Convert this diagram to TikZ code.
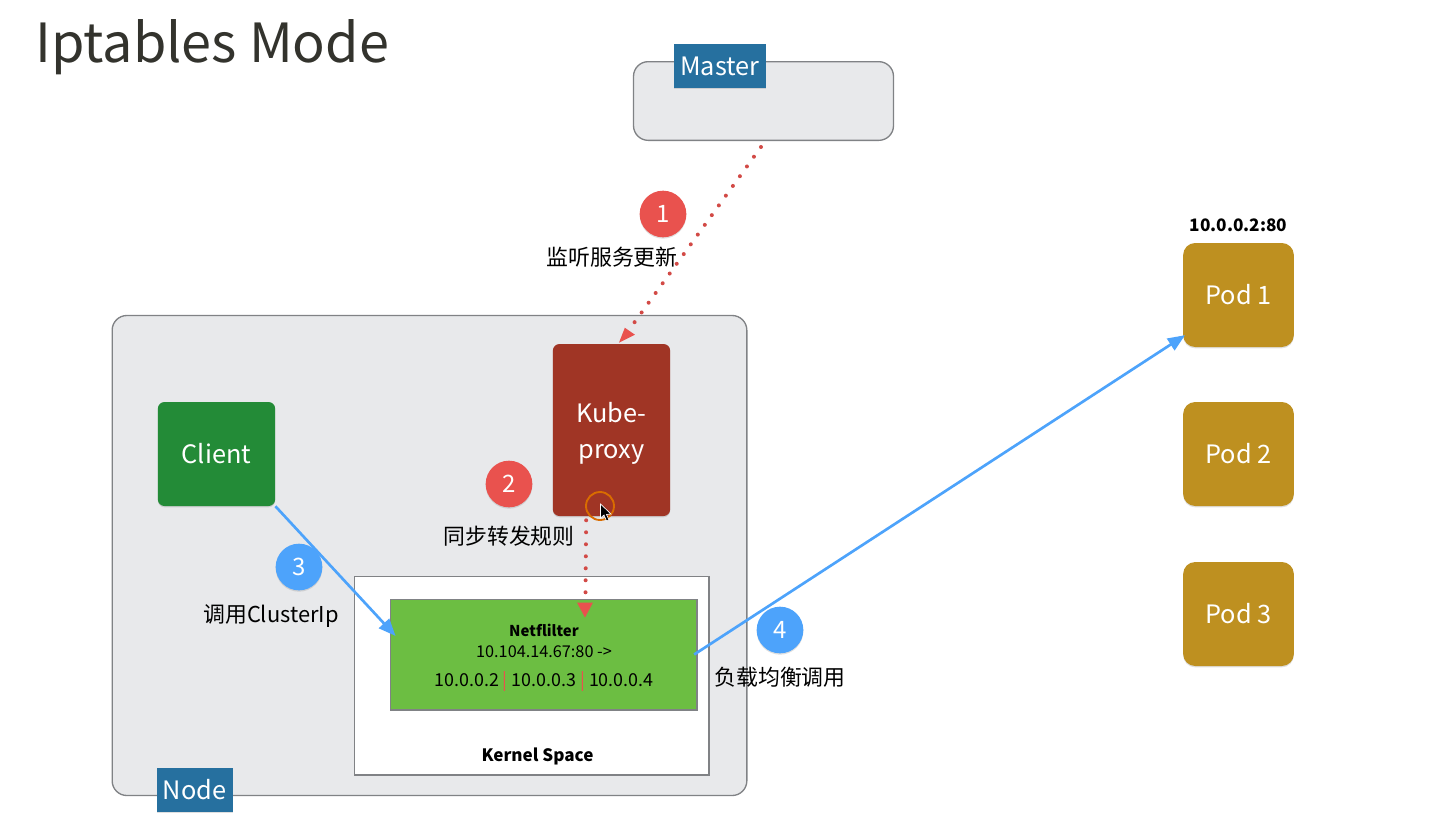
\documentclass[tikz,border=0pt]{standalone}
\usepackage{fontspec}
\setmainfont{Noto Sans CJK SC}
\usetikzlibrary{shapes,arrows}
\usetikzlibrary{shadows}
\definecolor{panelgray}{RGB}{232,233,235}
\definecolor{linegray}{RGB}{128,130,133}
\definecolor{tagblue}{RGB}{38,112,159}
\definecolor{podgold}{RGB}{190,144,32}
\definecolor{clientgreen}{RGB}{35,139,55}
\definecolor{kubered}{RGB}{160,53,37}
\definecolor{filtergreen}{RGB}{108,190,66}
\definecolor{stepred}{RGB}{233,82,78}
\definecolor{stepblue}{RGB}{77,163,251}
\definecolor{titlegray}{RGB}{51,51,45}
\tikzset{
    softshadow/.style={drop shadow={shadow xshift=0pt,shadow yshift=-1pt,opacity=0.25}},
    panel/.style={draw=linegray,line width=1pt,fill=panelgray,rounded corners=11pt},
    tag/.style={fill=tagblue,text=white,font=\fontsize{19}{22}\selectfont,softshadow},
    blocktext/.style={text=white,align=center,font=\fontsize{19}{26.5}\selectfont},
    block/.style={blocktext,rounded corners=5pt,softshadow},
    pod/.style={block,fill=podgold,minimum width=83pt,minimum height=78pt,rounded corners=9pt},
    stepdot/.style={circle,minimum size=35pt,inner sep=0pt,text=white,font=\fontsize{18}{20}\selectfont,softshadow},
    caption/.style={font=\fontsize{16.4}{20}\selectfont,text=black},
    small/.style={font=\fontsize{12.5}{15}\selectfont,text=black},
    syncline/.style={draw=stepred!90!black,line width=3pt,line cap=round,dash pattern=on 0pt off 9pt},
    callline/.style={draw=stepblue,line width=2pt,-triangle 45},
}
\begin{document}
\begin{tikzpicture}[x=0.75pt,y=0.75pt,yscale=-1,xscale=1]
    \useasboundingbox (0,0) rectangle (1430,829);

    % Text Node
    \node (title) [anchor=west,inner sep=0pt,text=titlegray,font=\fontsize{40.5}{46}\selectfont] at (35,47) {Iptables Mode};

    % Panels
    \node (masterbox) [panel,minimum width=195pt,minimum height=59pt,inner sep=0pt] at (763.5,101) {};
    \node (nodebox) [panel,minimum width=476pt,minimum height=360pt,inner sep=0pt] at (429.5,555.5) {};
    \node (mastertag) [tag,minimum width=69pt,minimum height=33pt,inner sep=0pt] at (720,66) {Master};
    \node (nodetag) [tag,minimum width=57pt,minimum height=33pt,inner sep=0pt] at (194.5,790) {Node};

    % Blocks
    \node (client) [block,fill=clientgreen,minimum width=88pt,minimum height=78pt] at (216.5,454) {Client};
    \node (kubeproxy) [block,fill=kubered,minimum width=88pt,minimum height=129pt] at (611.5,430) {};
    \node (kubelabel) [blocktext] at (611.5,433.5) {Kube-\\proxy};
    \node (kernel) [draw=linegray,line width=1pt,fill=white,minimum width=266pt,minimum height=149pt,inner sep=0pt] at (531.5,675.5) {};
    \node (netfilter) [draw=linegray,line width=1pt,fill=filtergreen,minimum width=230pt,minimum height=83pt,inner sep=0pt] at (543.5,654.5) {};
    \node (kernellabel) [small,font=\fontsize{12.8}{15}\selectfont\bfseries] at (537.5,756) {Kernel Space};
    \node (filtername) [small,font=\fontsize{11.2}{15}\selectfont\bfseries] at (544,630) {Netflilter};
    \node (filterrule) [small,font=\fontsize{12.2}{15}\selectfont] at (544,652) {10.104.14.67:80 ->};
    \node (filterpods) [small,font=\fontsize{13.4}{15}\selectfont] at (544,681) {10.0.0.2 {\color{stepred}|} 10.0.0.3 {\color{stepred}|} 10.0.0.4};

    % Pods
    \node (pod1) [pod] at (1238.5,295) {Pod 1};
    \node (pod2) [pod] at (1238.5,454) {Pod 2};
    \node (pod3) [pod] at (1238.5,614) {Pod 3};
    \node (podaddr) [small,font=\fontsize{12.9}{15}\selectfont\bfseries] at (1238.5,225.5) {10.0.0.2:80};

    % Step marks
    \node (step1) [stepdot,fill=stepred] at (663,214) {1};
    \node (step2) [stepdot,fill=stepred] at (509,484) {2};
    \node (step3) [stepdot,fill=stepblue] at (299,567) {3};
    \node (step4) [stepdot,fill=stepblue] at (780,630) {4};
    \node (text1) [caption] at (612,257) {监听服务更新};
    \node (text2) [caption] at (509,536.5) {同步转发规则};
    \node (text3) [caption] at (271,616.5) {调用ClusterIp};
    \node (text4) [caption] at (780,677) {负载均衡调用};

    % Connectors
    \draw [syncline] ([xshift=-1.9pt,yshift=4.5pt]masterbox.south) -- ([xshift=15.4pt,yshift=-13.5pt]kubeproxy.north);
    \fill [stepred] ([xshift=5.6pt,yshift=-0.75pt]kubeproxy.north) -- ([xshift=17.6pt,yshift=-6.75pt]kubeproxy.north) -- ([xshift=10pt,yshift=-12pt]kubeproxy.north) -- cycle;
    \draw [syncline] ([xshift=-19pt,yshift=3pt]kubeproxy.south) -- ([xshift=31.5pt,yshift=-4.5pt]netfilter.north);
    \fill [stepred] ([xshift=31.1pt,yshift=14.25pt]netfilter.north) -- ([xshift=25.1pt,yshift=3pt]netfilter.north) -- ([xshift=37.1pt,yshift=3pt]netfilter.north) -- cycle;
    \draw [callline] (client.south east) -- ([xshift=4.5pt,yshift=-14pt]netfilter.west);
    \draw [callline] ([xshift=-2.5pt]netfilter.east) -- ([xshift=1.5pt,yshift=-9pt]pod1.south west);

    % Cursor
    \draw [draw=orange!85!black,line width=1.4pt] (600,506) circle (14);
    \draw [fill=black,draw=white,line width=0.5pt] (600.5,504) -- (600.5,518) -- (604,515) -- (606.5,521) -- (609,520) -- (606.5,514.5) -- (611,514) -- cycle;
\end{tikzpicture}
\end{document}
